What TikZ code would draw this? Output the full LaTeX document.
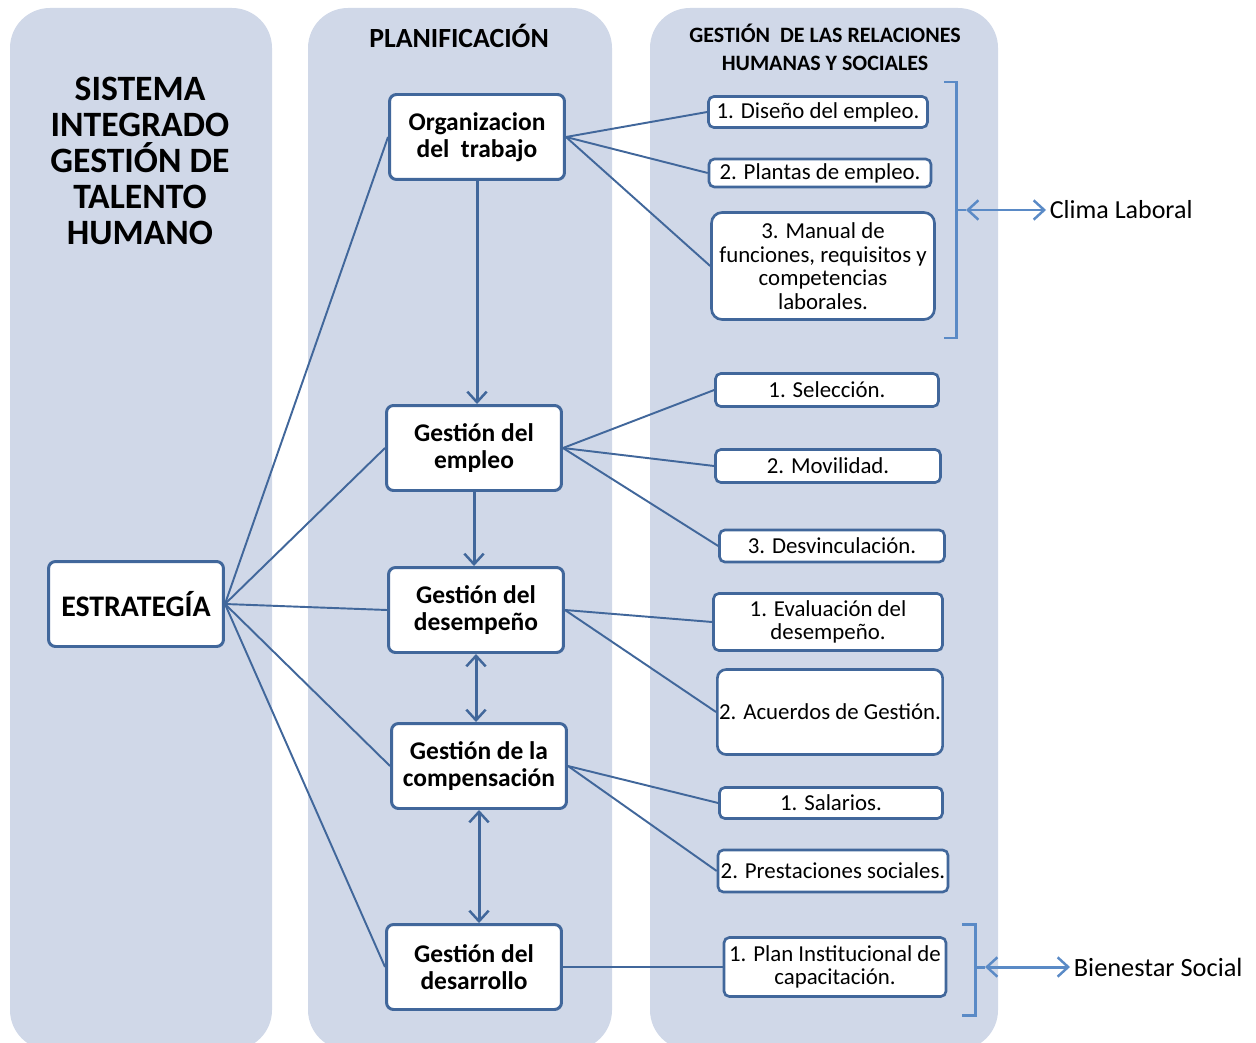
\documentclass[tikz,border=0pt]{standalone}
\usepackage{fontspec}
\setmainfont{Carlito}
\usetikzlibrary{arrows.meta}
\definecolor{panelfill}{HTML}{D0D8E8}
\definecolor{boxblue}{HTML}{41679B}
\definecolor{brkblue}{HTML}{5A8AC6}
\tikzset{
  panel/.style={fill=panelfill, draw=none, rounded corners=0.8cm},
  mainbox/.style={draw=boxblue, line width=1.7pt, fill=white, rounded corners=4pt,
    minimum width=3.5cm, minimum height=1.7cm, align=center, inner sep=1pt,
    font=\fontsize{14.5}{15.3}\selectfont\bfseries},
  itembox/.style={draw=boxblue, line width=1.5pt, fill=white, rounded corners=3pt,
    align=center, inner sep=1pt, font=\fontsize{13}{13.4}\selectfont},
  link/.style={draw=boxblue, line width=1.1pt},
  flow/.style={draw=boxblue, line width=1.7pt},
  brk/.style={draw=brkblue, line width=1.7pt},
}
\begin{document}
\begin{tikzpicture}[x=0.02cm, y=-0.02cm, >={Straight Barb[length=6pt, width=11pt, line width=1.4pt]}]
  \useasboundingbox (0,0) rectangle (1256,1043);
  % columns
  \fill[panel] (10,8) rectangle (272,1050);
  \fill[panel] (308,8) rectangle (612,1050);
  \fill[panel] (650,8) rectangle (998,1050);
  \node[align=center, font=\fontsize{20.3}{20.5}\selectfont\bfseries] (titulo) at (140,161)
    {SISTEMA\\INTEGRADO\\GESTIÓN DE\\TALENTO\\HUMANO};
  \node[font=\fontsize{15.8}{16}\selectfont\bfseries] (plan) at (459,36) {PLANIFICACIÓN};
  \node[align=center, font=\fontsize{12.5}{16}\selectfont\bfseries] (relac) at (825,47)
    {GESTIÓN \ DE LAS RELACIONES\\HUMANAS Y SOCIALES};

  % main boxes
  \node[mainbox] (estr) at (136,604) {\fontsize{17}{18}\selectfont ESTRATEGÍA};
  \node[mainbox] (org) at (477,137) {Organizacion\\del \ trabajo};
  \node[mainbox] (empleo) at (474,448) {Gestión del\\empleo};
  \node[mainbox] (desemp) at (476,610) {Gestión del\\desempeño};
  \node[mainbox] (comp) at (479,766) {Gestión de la\\compensación};
  \node[mainbox] (desarr) at (474,967) {Gestión del\\desarrollo};

  % item boxes
  \node[itembox, minimum width=4.38cm, minimum height=0.62cm] (diseno) at (818,112) {1. Diseño del empleo.};
  \node[itembox, minimum width=4.44cm, minimum height=0.56cm] (plantas) at (820,173) {2. Plantas de empleo.};
  \node[itembox, minimum width=4.46cm, minimum height=2.14cm, rounded corners=6pt] (manual) at (823,266)
    {3. Manual de\\funciones, requisitos y\\competencias\\laborales.};
  \node[itembox, minimum width=4.46cm, minimum height=0.66cm] (selec) at (827,390) {1. Selección.};
  \node[itembox, minimum width=4.5cm, minimum height=0.66cm] (movil) at (828,466) {2. Movilidad.};
  \node[itembox, minimum width=4.5cm, minimum height=0.64cm] (desvin) at (832,546) {3. Desvinculación.};
  \node[itembox, minimum width=4.58cm, minimum height=1.14cm] (evalua) at (828,622) {1. Evaluación del\\desempeño.};
  \node[itembox, minimum width=4.5cm, minimum height=1.7cm, rounded corners=5pt] (acuerd) at (830,712) {2. Acuerdos de Gestión.};
  \node[itembox, minimum width=4.46cm, minimum height=0.62cm] (salar) at (831,803) {1. Salarios.};
  \node[itembox, minimum width=4.6cm, minimum height=0.84cm] (prest) at (833,871) {2. Prestaciones sociales.};
  \node[itembox, minimum width=4.44cm, minimum height=1.18cm] (capac) at (835,967) {1. Plan Institucional de\\capacitación.};

  % strategy links
  \foreach \b in {org, empleo, desemp, comp, desarr}
    \draw[link] (estr.east) -- (\b.west);
  % item links
  \foreach \a/\b in {org/diseno, org/plantas, org/manual, empleo/selec, empleo/movil, empleo/desvin,
      desemp/evalua, desemp/acuerd, comp/salar, comp/prest, desarr/capac}
    \draw[link] (\a.east) -- (\b.west);
  % flow
  \draw[flow, ->] (org.south) -- (org.south |- empleo.north);
  \draw[flow, ->] (empleo.south) -- (empleo.south |- desemp.north);
  \draw[flow, <->] (desemp.south) -- (desemp.south |- comp.north);
  \draw[flow, <->] (comp.south) -- (comp.south |- desarr.north);

  % brackets
  \coordinate (climatick) at (966,210);
  \draw[brk] (944,82) -- (956,82) -- (956,338) -- (944,338);
  \draw[brk] (956,210) -- (climatick);
  \node[anchor=west, inner sep=2pt, font=\fontsize{14.8}{16}\selectfont] (clima) at (1046,210) {Clima Laboral};
  \draw[brk, <->] (climatick) -- (clima.west);
  \coordinate (bientick) at (985,967);
  \draw[brk] (962,924) -- (975,924) -- (975,1015) -- (962,1015);
  \draw[brk] (975,967) -- (bientick);
  \node[anchor=west, inner sep=2pt, font=\fontsize{15}{16}\selectfont] (bienes) at (1070,967) {Bienestar Social};
  \draw[brk, <->] (bientick) -- (bienes.west);
\end{tikzpicture}
\end{document}
